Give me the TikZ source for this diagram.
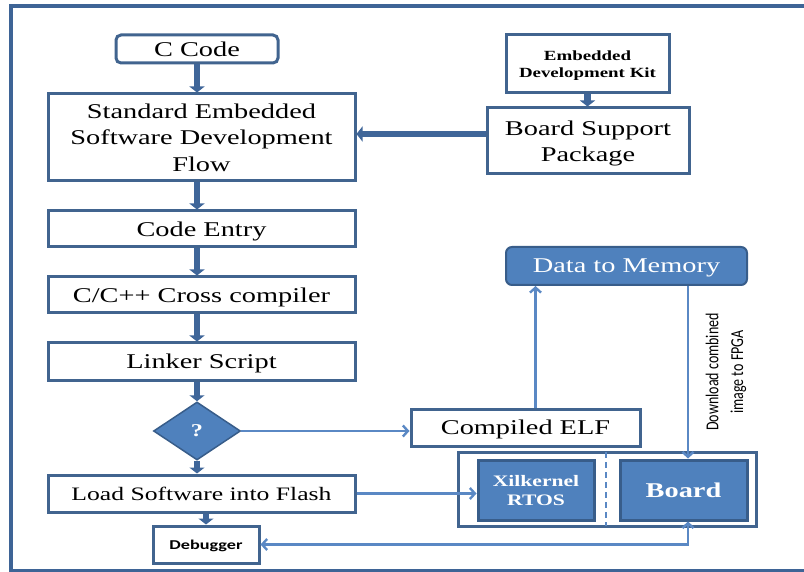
\documentclass[tikz,border=0pt]{standalone}
\usepackage{fontspec}
\setmainfont{Liberation Serif}[FakeStretch=1.35]
\newfontfamily\calib{Carlito}[FakeStretch=1.35]
\newfontfamily\calibr{Carlito}
\usetikzlibrary{shapes.geometric,arrows.meta}
\definecolor{frm}{HTML}{3E6496}
\definecolor{bdr}{HTML}{41648F}
\definecolor{fillb}{HTML}{4F81BD}
\definecolor{fbdr}{HTML}{385D8A}
\definecolor{thinc}{HTML}{5A88C4}
\definecolor{thk}{HTML}{3F6699}
\tikzset{
  wbox/.style={draw=bdr, line width=3pt, fill=white, inner sep=0pt, align=center, text=black, text depth=0pt},
  bbox/.style={draw=fbdr, line width=3pt, fill=fillb, inner sep=0pt, align=center, text=white, text depth=0pt},
  thkarrow/.style={draw=thk, line width=6.5pt, -{Triangle[width=15pt,length=6pt]}},
  thinarrow/.style={draw=thinc, line width=2.4pt, -{Straight Barb[length=5pt,width=11pt]}},
}
\begin{document}
\begin{tikzpicture}[x=1pt,y=-1pt]
\useasboundingbox (0,0) rectangle (804,572);
% outer frame
\draw[frm, line width=4pt] (806,6) -- (11,6) -- (11,571) -- (806,571);

% left column
\node[wbox, rounded corners=5pt, minimum width=162pt, minimum height=28pt, font=\fontsize{21}{26}\selectfont] (cc) at (197,49) {C Code};
\node[wbox, minimum width=307pt, minimum height=87pt, font=\fontsize{21}{26.5}\selectfont] (std) at (201.5,137.5) {Standard Embedded\\Software Development\\Flow};
\node[wbox, minimum width=307pt, minimum height=36pt, font=\fontsize{21}{26}\selectfont] (ce) at (201.5,229) {Code Entry};
\node[wbox, minimum width=307pt, minimum height=36pt, font=\fontsize{21}{26}\selectfont] (cx) at (201.5,295) {C/C++ Cross compiler};
\node[wbox, minimum width=307pt, minimum height=37pt, font=\fontsize{21}{26}\selectfont] (ls) at (201.5,361.5) {Linker Script};
\node[diamond, draw=fbdr, line width=1.5pt, fill=fillb, minimum width=87pt, minimum height=58pt, inner sep=0pt, text=white, font=\bfseries\fontsize{18}{20}\selectfont] (q) at (197,431) {?};
\node[wbox, minimum width=307pt, minimum height=37pt, font=\fontsize{19}{24}\selectfont] (load) at (201.5,493.5) {Load Software into Flash};
\node[wbox, minimum width=106pt, minimum height=37pt, font=\calib\bfseries\fontsize{13.5}{16}\selectfont] (dbg) at (206,544.5) {Debugger};

% right top
\node[wbox, minimum width=163pt, minimum height=58pt, font=\bfseries\fontsize{14}{17}\selectfont] (edk) at (587.5,64) {Embedded\\Development Kit};
\node[wbox, minimum width=202pt, minimum height=66pt, font=\fontsize{21}{26.5}\selectfont] (bsp) at (588,141) {Board Support\\Package};

% right middle
\node[draw=fbdr, line width=2pt, fill=fillb, rounded corners=6pt, minimum width=241pt, minimum height=38pt, inner sep=0pt, text=white, text depth=0pt, font=\fontsize{21}{26}\selectfont] (dtm) at (626.5,266) {Data to Memory};
\node[wbox, minimum width=229pt, minimum height=37pt, font=\fontsize{21}{26}\selectfont] (elf) at (525.5,427.5) {Compiled ELF};

% group
\node[draw=bdr, line width=3pt, minimum width=298pt, minimum height=74pt, inner sep=0pt] (grp) at (607,489) {};
\draw[thinc, line width=2pt, dash pattern=on 6pt off 4pt] (606,452) -- (606,526);
\node[bbox, minimum width=116pt, minimum height=60pt, font=\bfseries\fontsize{16}{19}\selectfont] (xil) at (536,490) {Xilkernel\\RTOS};
\node[bbox, minimum width=127pt, minimum height=60pt, font=\bfseries\fontsize{21}{24}\selectfont] (board) at (683.5,490) {Board};

% rotated label
\node[rotate=90, yscale=1.3, align=center, inner sep=0pt, font=\calibr\fontsize{14}{19}\selectfont] (dl) at (726,372) {Download combined\\image to FPGA};

% thick arrows
\draw[thkarrow] (cc.south) -- (cc.south |- std.north);
\draw[thkarrow] (std.south -| cc.south) -- (cc.south |- ce.north);
\draw[thkarrow] (ce.south -| cc.south) -- (cc.south |- cx.north);
\draw[thkarrow] (cx.south -| cc.south) -- (cc.south |- ls.north);
\draw[thkarrow] (ls.south -| q.north) -- (q.north);
\draw[thkarrow] (q.south) -- (q.south |- load.north);
\draw[thkarrow] (load.south -| dbg.north) -- (dbg.north);
\draw[thkarrow] (edk.south) -- (edk.south |- bsp.north);
\draw[thkarrow] ([yshift=7pt]bsp.west) -- ([yshift=7pt]bsp.west -| std.east);

% thin arrows
\coordinate (dx) at (688,0);
\draw[thinarrow] (q.east) -- (q.east -| elf.west);
\draw[thinarrow] ([xshift=10pt]elf.north) -- ([xshift=10pt]elf.north |- dtm.south);
\draw[thinarrow] (dtm.south -| dx) -- (board.north -| dx);
\draw[thinarrow] (load.east) -- (load.east -| xil.west);
\draw[thinc, line width=2.4pt, {Straight Barb[length=5pt,width=11pt]}-{Straight Barb[length=5pt,width=11pt]}] (dbg.east) -| (board.south -| dx);
\end{tikzpicture}
\end{document}
